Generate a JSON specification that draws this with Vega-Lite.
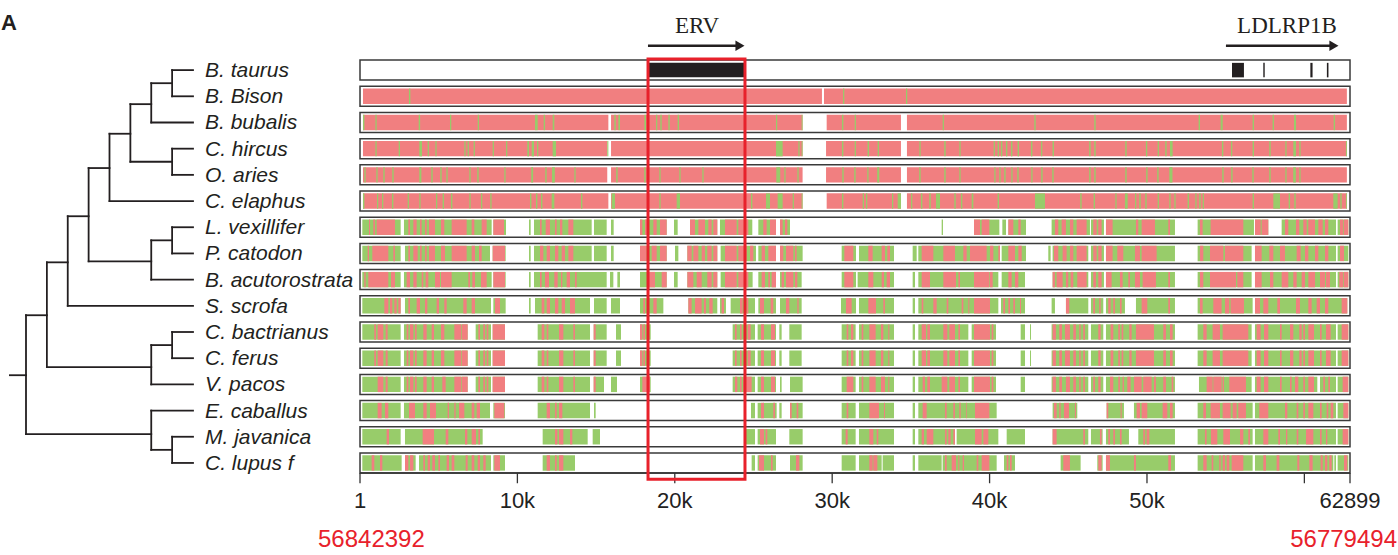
{
"$schema":"https://vega.github.io/schema/vega-lite/v6.json",
"width":1398,"height":555,"padding":0,"autosize":{"type":"none"},
"config":{"view":{"stroke":null}},
"datasets":{
"one":[{"id":1}],
"tracks":[{"row":0,"species":"B. taurus"},{"row":1,"species":"B. Bison"},{"row":2,"species":"B. bubalis"},{"row":3,"species":"C. hircus"},{"row":4,"species":"O. aries"},{"row":5,"species":"C. elaphus"},{"row":6,"species":"L. vexillifer"},{"row":7,"species":"P. catodon"},{"row":8,"species":"B. acutorostrata"},{"row":9,"species":"S. scrofa"},{"row":10,"species":"C. bactrianus"},{"row":11,"species":"C. ferus"},{"row":12,"species":"V. pacos"},{"row":13,"species":"E. caballus"},{"row":14,"species":"M. javanica"},{"row":15,"species":"\u00a0C. lupus f"}],
"tree":[{"x":7,"x2":7,"y":0,"y2":1},{"x":6,"x2":6,"y":0.5,"y2":2},{"x":7,"x2":7,"y":3,"y2":4},{"x":5,"x2":5,"y":1.3,"y2":3.5},{"x":4,"x2":4,"y":2.43,"y2":5},{"x":7,"x2":7,"y":6,"y2":7},{"x":6,"x2":6,"y":6.5,"y2":8},{"x":3,"x2":3,"y":3.74,"y2":7.3},{"x":2,"x2":2,"y":5.58,"y2":9},{"x":7,"x2":7,"y":10,"y2":11},{"x":6,"x2":6,"y":10.5,"y2":12},{"x":1,"x2":1,"y":7.34,"y2":11.34},{"x":7,"x2":7,"y":14,"y2":15},{"x":6,"x2":6,"y":13,"y2":14.5},{"x":0,"x2":0,"y":9.36,"y2":13.9},
{"x":7,"x2":8,"y":0,"y2":0},{"x":7,"x2":8,"y":1,"y2":1},{"x":6,"x2":8,"y":2,"y2":2},{"x":7,"x2":8,"y":3,"y2":3},{"x":7,"x2":8,"y":4,"y2":4},{"x":4,"x2":8,"y":5,"y2":5},{"x":7,"x2":8,"y":6,"y2":6},{"x":7,"x2":8,"y":7,"y2":7},{"x":6,"x2":8,"y":8,"y2":8},{"x":2,"x2":8,"y":9,"y2":9},{"x":7,"x2":8,"y":10,"y2":10},{"x":7,"x2":8,"y":11,"y2":11},{"x":6,"x2":8,"y":12,"y2":12},{"x":6,"x2":8,"y":13,"y2":13},{"x":7,"x2":8,"y":14,"y2":14},{"x":7,"x2":8,"y":15,"y2":15},
{"x":6,"x2":7,"y":0.5,"y2":0.5},{"x":5,"x2":6,"y":1.3,"y2":1.3},{"x":5,"x2":7,"y":3.5,"y2":3.5},{"x":4,"x2":5,"y":2.43,"y2":2.43},{"x":3,"x2":4,"y":3.74,"y2":3.74},{"x":6,"x2":7,"y":6.5,"y2":6.5},{"x":3,"x2":6,"y":7.3,"y2":7.3},{"x":2,"x2":3,"y":5.58,"y2":5.58},{"x":1,"x2":2,"y":7.34,"y2":7.34},{"x":6,"x2":7,"y":10.5,"y2":10.5},{"x":1,"x2":6,"y":11.34,"y2":11.34},{"x":0,"x2":1,"y":9.36,"y2":9.36},{"x":6,"x2":7,"y":14.5,"y2":14.5},{"x":0,"x2":6,"y":13.9,"y2":13.9},{"x":-0.77,"x2":0,"y":11.65,"y2":11.65}],
"ticks":[{"pos":1,"label":"1"},{"pos":10000,"label":"10k"},{"pos":20000,"label":"20k"},{"pos":30000,"label":"30k"},{"pos":40000,"label":"40k"},{"pos":50000,"label":"50k"},{"pos":60000,"label":""},{"pos":62899,"label":"62899"}],
"ref":[{"row":0,"s":18360,"e":24400,"type":"ERV"},{"row":0,"s":55400,"e":56160,"type":"exon"},{"row":0,"s":57390,"e":57480,"type":"exon"},{"row":0,"s":60380,"e":60520,"type":"exon"},{"row":0,"s":61430,"e":61530,"type":"exon"}],
"erv":[{"name":"ERV","s":18300,"e":24460}],
"coords":[{"pos":1,"coord":"56842392"},{"pos":62899,"coord":"56779494"}],
"arrows":[{"label":"ERV","tail":18297,"head":24141,"mid":21410},{"label":"LDLRP1B","tail":55017,"head":61878,"mid":58892}],
"segments":[
{"row":1,"s":190,"e":29350,"k":"hi"},{"row":1,"s":29480,"e":62700,"k":"hi"},{"row":1,"s":3110,"e":3200,"k":"lo"},{"row":1,"s":30690,"e":30770,"k":"lo"},{"row":1,"s":34690,"e":34770,"k":"lo"},
{"row":2,"s":190,"e":15780,"k":"hi"},{"row":2,"s":15950,"e":28120,"k":"hi"},{"row":2,"s":29650,"e":34370,"k":"hi"},{"row":2,"s":34750,"e":62700,"k":"hi"},
{"row":2,"s":190,"e":280,"k":"lo"},{"row":2,"s":980,"e":1060,"k":"lo"},{"row":2,"s":3730,"e":3820,"k":"lo"},{"row":2,"s":5720,"e":5800,"k":"lo"},{"row":2,"s":7480,"e":7560,"k":"lo"},{"row":2,"s":11119,"e":11289,"k":"lo"},{"row":2,"s":11670,"e":11760,"k":"lo"},{"row":2,"s":12242,"e":12348,"k":"lo"},{"row":2,"s":16160,"e":16250,"k":"lo"},{"row":2,"s":16414,"e":16520,"k":"lo"},{"row":2,"s":18066,"e":18172,"k":"lo"},{"row":2,"s":18810,"e":18890,"k":"lo"},{"row":2,"s":19080,"e":19170,"k":"lo"},{"row":2,"s":19590,"e":19680,"k":"lo"},{"row":2,"s":20180,"e":20270,"k":"lo"},{"row":2,"s":26430,"e":26510,"k":"lo"},{"row":2,"s":28060,"e":28120,"k":"lo"},{"row":2,"s":30620,"e":30710,"k":"lo"},{"row":2,"s":31430,"e":31510,"k":"lo"},{"row":2,"s":37020,"e":37100,"k":"lo"},{"row":2,"s":42840,"e":42930,"k":"lo"},{"row":2,"s":46650,"e":46740,"k":"lo"},{"row":2,"s":53280,"e":53370,"k":"lo"},{"row":2,"s":54680,"e":54810,"k":"lo"},{"row":2,"s":56710,"e":56800,"k":"lo"},{"row":2,"s":57980,"e":58070,"k":"lo"},{"row":2,"s":59340,"e":59470,"k":"lo"},{"row":2,"s":61860,"e":61950,"k":"lo"},
{"row":3,"s":190,"e":15710,"k":"hi"},{"row":3,"s":15950,"e":28120,"k":"hi"},{"row":3,"s":29610,"e":34370,"k":"hi"},{"row":3,"s":34750,"e":62700,"k":"hi"},
{"row":3,"s":15710,"e":15780,"k":"lo"},{"row":3,"s":980,"e":1060,"k":"lo"},{"row":3,"s":2460,"e":2540,"k":"lo"},{"row":3,"s":3770,"e":3939,"k":"lo"},{"row":3,"s":4300,"e":4380,"k":"lo"},{"row":3,"s":4790,"e":4870,"k":"lo"},{"row":3,"s":6630,"e":6710,"k":"lo"},{"row":3,"s":6840,"e":6920,"k":"lo"},{"row":3,"s":7220,"e":7300,"k":"lo"},{"row":3,"s":8430,"e":8510,"k":"lo"},{"row":3,"s":9280,"e":9360,"k":"lo"},{"row":3,"s":10632,"e":10738,"k":"lo"},{"row":3,"s":10907,"e":11056,"k":"lo"},{"row":3,"s":11250,"e":11330,"k":"lo"},{"row":3,"s":12242,"e":12453,"k":"lo"},{"row":3,"s":26429,"e":26853,"k":"lo"},{"row":3,"s":27850,"e":27930,"k":"lo"},{"row":3,"s":28060,"e":28120,"k":"lo"},{"row":3,"s":30620,"e":30710,"k":"lo"},{"row":3,"s":31430,"e":31510,"k":"lo"},{"row":3,"s":32250,"e":32340,"k":"lo"},{"row":3,"s":32889,"e":32974,"k":"lo"},{"row":3,"s":35540,"e":35620,"k":"lo"},{"row":3,"s":37120,"e":37210,"k":"lo"},{"row":3,"s":38080,"e":38160,"k":"lo"},{"row":3,"s":40260,"e":40340,"k":"lo"},{"row":3,"s":40510,"e":40600,"k":"lo"},{"row":3,"s":40720,"e":40810,"k":"lo"},{"row":3,"s":41040,"e":41130,"k":"lo"},{"row":3,"s":41360,"e":41450,"k":"lo"},{"row":3,"s":41780,"e":41870,"k":"lo"},{"row":3,"s":42630,"e":42720,"k":"lo"},{"row":3,"s":43270,"e":43350,"k":"lo"},{"row":3,"s":44000,"e":44090,"k":"lo"},{"row":3,"s":46330,"e":46420,"k":"lo"},{"row":3,"s":46650,"e":46740,"k":"lo"},{"row":3,"s":48620,"e":48710,"k":"lo"},{"row":3,"s":49930,"e":50020,"k":"lo"},{"row":3,"s":50680,"e":50760,"k":"lo"},{"row":3,"s":51160,"e":51250,"k":"lo"},{"row":3,"s":51460,"e":51630,"k":"lo"},{"row":3,"s":54760,"e":54850,"k":"lo"},{"row":3,"s":55340,"e":55420,"k":"lo"},{"row":3,"s":56710,"e":56800,"k":"lo"},{"row":3,"s":57770,"e":57860,"k":"lo"},{"row":3,"s":58790,"e":58870,"k":"lo"},{"row":3,"s":59297,"e":59466,"k":"lo"},{"row":3,"s":59680,"e":59760,"k":"lo"},{"row":3,"s":62640,"e":62700,"k":"lo"},
{"row":4,"s":190,"e":15710,"k":"hi"},{"row":4,"s":15950,"e":28120,"k":"hi"},{"row":4,"s":29610,"e":34370,"k":"hi"},{"row":4,"s":34750,"e":62700,"k":"hi"},
{"row":4,"s":280,"e":360,"k":"lo"},{"row":4,"s":1040,"e":1120,"k":"lo"},{"row":4,"s":1480,"e":1570,"k":"lo"},{"row":4,"s":2050,"e":2140,"k":"lo"},{"row":4,"s":3770,"e":3900,"k":"lo"},{"row":4,"s":4530,"e":4620,"k":"lo"},{"row":4,"s":5100,"e":5190,"k":"lo"},{"row":4,"s":5490,"e":5570,"k":"lo"},{"row":4,"s":6950,"e":7030,"k":"lo"},{"row":4,"s":7450,"e":7540,"k":"lo"},{"row":4,"s":9170,"e":9250,"k":"lo"},{"row":4,"s":10880,"e":11000,"k":"lo"},{"row":4,"s":11770,"e":11860,"k":"lo"},{"row":4,"s":12200,"e":12380,"k":"lo"},{"row":4,"s":13620,"e":13700,"k":"lo"},{"row":4,"s":16280,"e":16370,"k":"lo"},{"row":4,"s":18060,"e":18150,"k":"lo"},{"row":4,"s":19020,"e":19100,"k":"lo"},{"row":4,"s":20290,"e":20370,"k":"lo"},{"row":4,"s":21750,"e":21830,"k":"lo"},{"row":4,"s":26450,"e":26700,"k":"lo"},{"row":4,"s":26960,"e":27040,"k":"lo"},{"row":4,"s":27790,"e":27870,"k":"lo"},{"row":4,"s":30640,"e":30730,"k":"lo"},{"row":4,"s":31400,"e":31490,"k":"lo"},{"row":4,"s":32230,"e":32310,"k":"lo"},{"row":4,"s":32860,"e":32990,"k":"lo"},{"row":4,"s":35530,"e":35620,"k":"lo"},{"row":4,"s":37120,"e":37210,"k":"lo"},{"row":4,"s":38080,"e":38160,"k":"lo"},{"row":4,"s":40300,"e":40380,"k":"lo"},{"row":4,"s":40620,"e":40700,"k":"lo"},{"row":4,"s":40930,"e":41020,"k":"lo"},{"row":4,"s":41380,"e":41460,"k":"lo"},{"row":4,"s":41760,"e":41850,"k":"lo"},{"row":4,"s":42650,"e":42730,"k":"lo"},{"row":4,"s":43280,"e":43370,"k":"lo"},{"row":4,"s":43980,"e":44070,"k":"lo"},{"row":4,"s":46330,"e":46420,"k":"lo"},{"row":4,"s":46650,"e":46740,"k":"lo"},{"row":4,"s":48620,"e":48710,"k":"lo"},{"row":4,"s":49950,"e":50040,"k":"lo"},{"row":4,"s":50650,"e":50740,"k":"lo"},{"row":4,"s":51420,"e":51620,"k":"lo"},{"row":4,"s":54780,"e":54870,"k":"lo"},{"row":4,"s":55350,"e":55440,"k":"lo"},{"row":4,"s":56690,"e":56780,"k":"lo"},{"row":4,"s":57770,"e":57860,"k":"lo"},{"row":4,"s":58790,"e":58870,"k":"lo"},{"row":4,"s":59290,"e":59460,"k":"lo"},{"row":4,"s":59680,"e":59760,"k":"lo"},
{"row":5,"s":190,"e":15780,"k":"hi"},{"row":5,"s":15950,"e":28120,"k":"hi"},{"row":5,"s":29650,"e":34370,"k":"hi"},{"row":5,"s":34750,"e":62700,"k":"hi"},
{"row":5,"s":190,"e":280,"k":"lo"},{"row":5,"s":1080,"e":1160,"k":"lo"},{"row":5,"s":1400,"e":1480,"k":"lo"},{"row":5,"s":2030,"e":2120,"k":"lo"},{"row":5,"s":3030,"e":3110,"k":"lo"},{"row":5,"s":3770,"e":3850,"k":"lo"},{"row":5,"s":4830,"e":4910,"k":"lo"},{"row":5,"s":5250,"e":5340,"k":"lo"},{"row":5,"s":5780,"e":5870,"k":"lo"},{"row":5,"s":6950,"e":7030,"k":"lo"},{"row":5,"s":7690,"e":7770,"k":"lo"},{"row":5,"s":8280,"e":8360,"k":"lo"},{"row":5,"s":10800,"e":10890,"k":"lo"},{"row":5,"s":11180,"e":11270,"k":"lo"},{"row":5,"s":11500,"e":11590,"k":"lo"},{"row":5,"s":12178,"e":12348,"k":"lo"},{"row":5,"s":14040,"e":14130,"k":"lo"},{"row":5,"s":15991,"e":16202,"k":"lo"},{"row":5,"s":19020,"e":19100,"k":"lo"},{"row":5,"s":20121,"e":20333,"k":"lo"},{"row":5,"s":24840,"e":24930,"k":"lo"},{"row":5,"s":25794,"e":26048,"k":"lo"},{"row":5,"s":26535,"e":26853,"k":"lo"},{"row":5,"s":27490,"e":27570,"k":"lo"},{"row":5,"s":28060,"e":28120,"k":"lo"},{"row":5,"s":30620,"e":30710,"k":"lo"},{"row":5,"s":31940,"e":32020,"k":"lo"},{"row":5,"s":32150,"e":32230,"k":"lo"},{"row":5,"s":33800,"e":33880,"k":"lo"},{"row":5,"s":34160,"e":34370,"k":"lo"},{"row":5,"s":35010,"e":35090,"k":"lo"},{"row":5,"s":35640,"e":35730,"k":"lo"},{"row":5,"s":36170,"e":36260,"k":"lo"},{"row":5,"s":36596,"e":36850,"k":"lo"},{"row":5,"s":37760,"e":37850,"k":"lo"},{"row":5,"s":38180,"e":38270,"k":"lo"},{"row":5,"s":38862,"e":38968,"k":"lo"},{"row":5,"s":40510,"e":40600,"k":"lo"},{"row":5,"s":42886,"e":43521,"k":"lo"},{"row":5,"s":45760,"e":45850,"k":"lo"},{"row":5,"s":46610,"e":46700,"k":"lo"},{"row":5,"s":47990,"e":48070,"k":"lo"},{"row":5,"s":48601,"e":48770,"k":"lo"},{"row":5,"s":49240,"e":49320,"k":"lo"},{"row":5,"s":49510,"e":49600,"k":"lo"},{"row":5,"s":49890,"e":49980,"k":"lo"},{"row":5,"s":50680,"e":50760,"k":"lo"},{"row":5,"s":51420,"e":51500,"k":"lo"},{"row":5,"s":51740,"e":51820,"k":"lo"},{"row":5,"s":52580,"e":52670,"k":"lo"},{"row":5,"s":53070,"e":53150,"k":"lo"},{"row":5,"s":53320,"e":53410,"k":"lo"},{"row":5,"s":53540,"e":53620,"k":"lo"},{"row":5,"s":56710,"e":56800,"k":"lo"},{"row":5,"s":58026,"e":58450,"k":"lo"},{"row":5,"s":59000,"e":59090,"k":"lo"},{"row":5,"s":59360,"e":59450,"k":"lo"},{"row":5,"s":61838,"e":62113,"k":"lo"},{"row":5,"s":62280,"e":62370,"k":"lo"},{"row":5,"s":62640,"e":62700,"k":"lo"},
{"row":6,"s":148,"e":2584,"k":"lo"},{"row":6,"s":2795,"e":8366,"k":"lo"},{"row":6,"s":8472,"e":9277,"k":"lo"},{"row":6,"s":10738,"e":10844,"k":"lo"},{"row":6,"s":11056,"e":14720,"k":"lo"},{"row":6,"s":14868,"e":15673,"k":"lo"},{"row":6,"s":15948,"e":16118,"k":"lo"},{"row":6,"s":17791,"e":19485,"k":"lo"},{"row":6,"s":19951,"e":20184,"k":"lo"},{"row":6,"s":20968,"e":22701,"k":"lo"},{"row":6,"s":22871,"e":24925,"k":"lo"},{"row":6,"s":25307,"e":26429,"k":"lo"},{"row":6,"s":26683,"e":27319,"k":"lo"},{"row":6,"s":36956,"e":37040,"k":"lo"},{"row":6,"s":39010,"e":40620,"k":"lo"},{"row":6,"s":40810,"e":41043,"k":"lo"},{"row":6,"s":41192,"e":42314,"k":"lo"},{"row":6,"s":43941,"e":46377,"k":"lo"},{"row":6,"s":46441,"e":47267,"k":"lo"},{"row":6,"s":47394,"e":51778,"k":"lo"},{"row":6,"s":53218,"e":56798,"k":"lo"},{"row":6,"s":56861,"e":57708,"k":"lo"},{"row":6,"s":58556,"e":62008,"k":"lo"},{"row":6,"s":62114,"e":62792,"k":"lo"},
{"row":6,"s":572,"e":635,"k":"hi"},{"row":6,"s":847,"e":953,"k":"hi"},{"row":6,"s":1059,"e":2224,"k":"hi"},{"row":6,"s":3071,"e":3177,"k":"hi"},{"row":6,"s":3389,"e":3600,"k":"hi"},{"row":6,"s":3812,"e":3918,"k":"hi"},{"row":6,"s":4130,"e":4236,"k":"hi"},{"row":6,"s":4384,"e":4765,"k":"hi"},{"row":6,"s":5146,"e":5358,"k":"hi"},{"row":6,"s":5824,"e":6777,"k":"hi"},{"row":6,"s":7095,"e":7264,"k":"hi"},{"row":6,"s":7730,"e":8048,"k":"hi"},{"row":6,"s":8472,"e":9149,"k":"hi"},{"row":6,"s":11437,"e":11543,"k":"hi"},{"row":6,"s":11797,"e":12072,"k":"hi"},{"row":6,"s":12390,"e":12496,"k":"hi"},{"row":6,"s":12708,"e":12856,"k":"hi"},{"row":6,"s":13237,"e":13555,"k":"hi"},{"row":6,"s":17791,"e":17939,"k":"hi"},{"row":6,"s":18109,"e":18320,"k":"hi"},{"row":6,"s":18638,"e":18850,"k":"hi"},{"row":6,"s":19062,"e":19485,"k":"hi"},{"row":6,"s":20968,"e":21286,"k":"hi"},{"row":6,"s":21497,"e":21918,"k":"hi"},{"row":6,"s":22130,"e":22341,"k":"hi"},{"row":6,"s":22447,"e":22701,"k":"hi"},{"row":6,"s":23189,"e":23930,"k":"hi"},{"row":6,"s":24036,"e":24671,"k":"hi"},{"row":6,"s":25624,"e":25836,"k":"hi"},{"row":6,"s":26048,"e":26429,"k":"hi"},{"row":6,"s":26683,"e":26853,"k":"hi"},{"row":6,"s":27001,"e":27149,"k":"hi"},{"row":6,"s":39010,"e":39391,"k":"hi"},{"row":6,"s":39497,"e":39984,"k":"hi"},{"row":6,"s":41192,"e":41509,"k":"hi"},{"row":6,"s":41827,"e":41975,"k":"hi"},{"row":6,"s":44153,"e":44365,"k":"hi"},{"row":6,"s":44577,"e":44852,"k":"hi"},{"row":6,"s":45106,"e":45318,"k":"hi"},{"row":6,"s":45530,"e":46165,"k":"hi"},{"row":6,"s":46589,"e":46801,"k":"hi"},{"row":6,"s":46907,"e":47118,"k":"hi"},{"row":6,"s":47394,"e":47817,"k":"hi"},{"row":6,"s":49300,"e":49448,"k":"hi"},{"row":6,"s":49660,"e":50507,"k":"hi"},{"row":6,"s":51354,"e":51460,"k":"hi"},{"row":6,"s":53366,"e":53535,"k":"hi"},{"row":6,"s":54044,"e":56120,"k":"hi"},{"row":6,"s":56861,"e":57221,"k":"hi"},{"row":6,"s":57285,"e":57708,"k":"hi"},{"row":6,"s":58767,"e":58979,"k":"hi"},{"row":6,"s":59466,"e":59678,"k":"hi"},{"row":6,"s":59932,"e":60144,"k":"hi"},{"row":6,"s":60250,"e":60674,"k":"hi"},{"row":6,"s":60885,"e":61161,"k":"hi"},{"row":6,"s":61309,"e":61521,"k":"hi"},{"row":6,"s":62262,"e":62474,"k":"hi"},{"row":6,"s":62516,"e":62792,"k":"hi"},
{"row":7,"s":148,"e":2584,"k":"lo"},{"row":7,"s":2859,"e":8260,"k":"lo"},{"row":7,"s":8429,"e":9255,"k":"lo"},{"row":7,"s":10738,"e":10844,"k":"lo"},{"row":7,"s":11056,"e":14720,"k":"lo"},{"row":7,"s":14868,"e":15673,"k":"lo"},{"row":7,"s":15948,"e":16118,"k":"lo"},{"row":7,"s":17791,"e":19485,"k":"lo"},{"row":7,"s":20015,"e":20227,"k":"lo"},{"row":7,"s":20798,"e":22701,"k":"lo"},{"row":7,"s":22913,"e":25158,"k":"lo"},{"row":7,"s":25307,"e":26429,"k":"lo"},{"row":7,"s":26683,"e":28123,"k":"lo"},{"row":7,"s":30602,"e":31512,"k":"lo"},{"row":7,"s":31703,"e":33927,"k":"lo"},{"row":7,"s":35113,"e":35367,"k":"lo"},{"row":7,"s":35473,"e":40662,"k":"lo"},{"row":7,"s":40768,"e":42314,"k":"lo"},{"row":7,"s":43730,"e":43878,"k":"lo"},{"row":7,"s":44005,"e":46271,"k":"lo"},{"row":7,"s":46441,"e":47267,"k":"lo"},{"row":7,"s":47394,"e":51778,"k":"lo"},{"row":7,"s":53218,"e":56649,"k":"lo"},{"row":7,"s":56861,"e":62008,"k":"lo"},{"row":7,"s":62114,"e":62792,"k":"lo"},
{"row":7,"s":487,"e":572,"k":"hi"},{"row":7,"s":783,"e":1800,"k":"hi"},{"row":7,"s":2118,"e":2224,"k":"hi"},{"row":7,"s":3071,"e":3177,"k":"hi"},{"row":7,"s":3389,"e":3664,"k":"hi"},{"row":7,"s":3812,"e":3918,"k":"hi"},{"row":7,"s":4130,"e":4236,"k":"hi"},{"row":7,"s":4384,"e":4765,"k":"hi"},{"row":7,"s":5146,"e":5400,"k":"hi"},{"row":7,"s":5824,"e":6777,"k":"hi"},{"row":7,"s":7095,"e":7307,"k":"hi"},{"row":7,"s":7560,"e":7730,"k":"hi"},{"row":7,"s":8429,"e":9213,"k":"hi"},{"row":7,"s":11437,"e":11649,"k":"hi"},{"row":7,"s":11861,"e":12072,"k":"hi"},{"row":7,"s":12390,"e":12602,"k":"hi"},{"row":7,"s":12814,"e":13026,"k":"hi"},{"row":7,"s":13237,"e":13555,"k":"hi"},{"row":7,"s":17791,"e":18215,"k":"hi"},{"row":7,"s":18532,"e":18850,"k":"hi"},{"row":7,"s":19062,"e":19485,"k":"hi"},{"row":7,"s":20798,"e":21074,"k":"hi"},{"row":7,"s":21180,"e":21497,"k":"hi"},{"row":7,"s":21709,"e":21921,"k":"hi"},{"row":7,"s":22066,"e":22341,"k":"hi"},{"row":7,"s":22447,"e":22701,"k":"hi"},{"row":7,"s":23189,"e":23930,"k":"hi"},{"row":7,"s":24036,"e":24565,"k":"hi"},{"row":7,"s":24777,"e":24989,"k":"hi"},{"row":7,"s":25518,"e":25730,"k":"hi"},{"row":7,"s":25942,"e":26429,"k":"hi"},{"row":7,"s":26683,"e":26895,"k":"hi"},{"row":7,"s":27064,"e":27530,"k":"hi"},{"row":7,"s":27636,"e":27742,"k":"hi"},{"row":7,"s":30771,"e":31343,"k":"hi"},{"row":7,"s":32296,"e":32571,"k":"hi"},{"row":7,"s":33143,"e":33355,"k":"hi"},{"row":7,"s":33503,"e":33673,"k":"hi"},{"row":7,"s":35685,"e":36426,"k":"hi"},{"row":7,"s":37061,"e":37803,"k":"hi"},{"row":7,"s":38332,"e":38544,"k":"hi"},{"row":7,"s":38756,"e":39815,"k":"hi"},{"row":7,"s":40027,"e":40238,"k":"hi"},{"row":7,"s":40556,"e":40662,"k":"hi"},{"row":7,"s":41192,"e":41615,"k":"hi"},{"row":7,"s":41827,"e":42039,"k":"hi"},{"row":7,"s":44089,"e":44365,"k":"hi"},{"row":7,"s":44640,"e":44894,"k":"hi"},{"row":7,"s":45106,"e":45318,"k":"hi"},{"row":7,"s":45530,"e":46165,"k":"hi"},{"row":7,"s":46589,"e":46801,"k":"hi"},{"row":7,"s":46907,"e":47118,"k":"hi"},{"row":7,"s":47394,"e":47817,"k":"hi"},{"row":7,"s":48114,"e":48495,"k":"hi"},{"row":7,"s":49236,"e":49554,"k":"hi"},{"row":7,"s":49660,"e":50613,"k":"hi"},{"row":7,"s":53366,"e":53578,"k":"hi"},{"row":7,"s":54002,"e":54849,"k":"hi"},{"row":7,"s":54955,"e":56120,"k":"hi"},{"row":7,"s":56861,"e":57285,"k":"hi"},{"row":7,"s":57772,"e":58026,"k":"hi"},{"row":7,"s":58450,"e":58767,"k":"hi"},{"row":7,"s":59509,"e":59763,"k":"hi"},{"row":7,"s":60038,"e":60250,"k":"hi"},{"row":7,"s":60674,"e":60885,"k":"hi"},{"row":7,"s":61309,"e":61521,"k":"hi"},{"row":7,"s":62262,"e":62516,"k":"hi"},
{"row":8,"s":148,"e":2584,"k":"lo"},{"row":8,"s":2795,"e":8366,"k":"lo"},{"row":8,"s":8472,"e":9255,"k":"lo"},{"row":8,"s":10738,"e":10844,"k":"lo"},{"row":8,"s":11056,"e":15673,"k":"lo"},{"row":8,"s":15885,"e":16097,"k":"lo"},{"row":8,"s":16351,"e":16520,"k":"lo"},{"row":8,"s":17791,"e":19485,"k":"lo"},{"row":8,"s":19951,"e":20184,"k":"lo"},{"row":8,"s":20798,"e":22701,"k":"lo"},{"row":8,"s":22913,"e":24946,"k":"lo"},{"row":8,"s":25307,"e":26429,"k":"lo"},{"row":8,"s":26683,"e":28060,"k":"lo"},{"row":8,"s":30602,"e":31512,"k":"lo"},{"row":8,"s":31618,"e":33927,"k":"lo"},{"row":8,"s":35113,"e":35261,"k":"lo"},{"row":8,"s":35473,"e":40556,"k":"lo"},{"row":8,"s":40768,"e":42251,"k":"lo"},{"row":8,"s":44005,"e":46271,"k":"lo"},{"row":8,"s":46441,"e":47267,"k":"lo"},{"row":8,"s":47394,"e":51778,"k":"lo"},{"row":8,"s":53218,"e":56649,"k":"lo"},{"row":8,"s":56861,"e":62008,"k":"lo"},{"row":8,"s":62114,"e":62792,"k":"lo"},
{"row":8,"s":275,"e":360,"k":"hi"},{"row":8,"s":529,"e":1800,"k":"hi"},{"row":8,"s":1969,"e":2224,"k":"hi"},{"row":8,"s":2965,"e":3177,"k":"hi"},{"row":8,"s":3389,"e":3600,"k":"hi"},{"row":8,"s":3918,"e":4024,"k":"hi"},{"row":8,"s":4172,"e":4342,"k":"hi"},{"row":8,"s":4765,"e":5083,"k":"hi"},{"row":8,"s":5146,"e":5824,"k":"hi"},{"row":8,"s":6883,"e":6989,"k":"hi"},{"row":8,"s":7137,"e":7307,"k":"hi"},{"row":8,"s":7688,"e":8048,"k":"hi"},{"row":8,"s":8472,"e":9213,"k":"hi"},{"row":8,"s":11437,"e":11543,"k":"hi"},{"row":8,"s":11755,"e":12009,"k":"hi"},{"row":8,"s":12348,"e":12559,"k":"hi"},{"row":8,"s":12771,"e":12856,"k":"hi"},{"row":8,"s":13131,"e":13343,"k":"hi"},{"row":8,"s":13661,"e":13767,"k":"hi"},{"row":8,"s":18320,"e":18744,"k":"hi"},{"row":8,"s":19168,"e":19485,"k":"hi"},{"row":8,"s":20798,"e":21180,"k":"hi"},{"row":8,"s":21392,"e":21709,"k":"hi"},{"row":8,"s":22066,"e":22341,"k":"hi"},{"row":8,"s":22447,"e":22701,"k":"hi"},{"row":8,"s":23189,"e":23930,"k":"hi"},{"row":8,"s":24036,"e":24671,"k":"hi"},{"row":8,"s":25518,"e":25730,"k":"hi"},{"row":8,"s":25942,"e":26048,"k":"hi"},{"row":8,"s":26154,"e":26429,"k":"hi"},{"row":8,"s":26789,"e":26937,"k":"hi"},{"row":8,"s":27064,"e":27530,"k":"hi"},{"row":8,"s":27636,"e":27785,"k":"hi"},{"row":8,"s":30771,"e":31343,"k":"hi"},{"row":8,"s":32296,"e":32614,"k":"hi"},{"row":8,"s":33143,"e":33291,"k":"hi"},{"row":8,"s":33461,"e":33673,"k":"hi"},{"row":8,"s":35685,"e":36214,"k":"hi"},{"row":8,"s":37061,"e":37866,"k":"hi"},{"row":8,"s":38015,"e":38120,"k":"hi"},{"row":8,"s":39010,"e":39984,"k":"hi"},{"row":8,"s":40027,"e":40196,"k":"hi"},{"row":8,"s":41192,"e":41403,"k":"hi"},{"row":8,"s":41615,"e":41827,"k":"hi"},{"row":8,"s":44005,"e":44153,"k":"hi"},{"row":8,"s":44259,"e":44640,"k":"hi"},{"row":8,"s":44852,"e":45000,"k":"hi"},{"row":8,"s":45149,"e":45318,"k":"hi"},{"row":8,"s":45572,"e":46165,"k":"hi"},{"row":8,"s":46589,"e":46758,"k":"hi"},{"row":8,"s":46907,"e":47118,"k":"hi"},{"row":8,"s":47394,"e":47754,"k":"hi"},{"row":8,"s":48283,"e":48453,"k":"hi"},{"row":8,"s":48813,"e":48919,"k":"hi"},{"row":8,"s":49236,"e":49554,"k":"hi"},{"row":8,"s":49723,"e":50570,"k":"hi"},{"row":8,"s":51354,"e":51460,"k":"hi"},{"row":8,"s":53366,"e":53578,"k":"hi"},{"row":8,"s":54002,"e":55654,"k":"hi"},{"row":8,"s":55739,"e":56120,"k":"hi"},{"row":8,"s":56861,"e":57285,"k":"hi"},{"row":8,"s":57814,"e":58026,"k":"hi"},{"row":8,"s":58556,"e":58979,"k":"hi"},{"row":8,"s":59297,"e":59509,"k":"hi"},{"row":8,"s":59826,"e":60038,"k":"hi"},{"row":8,"s":60250,"e":60674,"k":"hi"},{"row":8,"s":60991,"e":61309,"k":"hi"},{"row":8,"s":61372,"e":61626,"k":"hi"},{"row":8,"s":62220,"e":62474,"k":"hi"},{"row":8,"s":62516,"e":62792,"k":"hi"},
{"row":9,"s":148,"e":2584,"k":"lo"},{"row":9,"s":2859,"e":8323,"k":"lo"},{"row":9,"s":8472,"e":9255,"k":"lo"},{"row":9,"s":10738,"e":10844,"k":"lo"},{"row":9,"s":11119,"e":14614,"k":"lo"},{"row":9,"s":14868,"e":15673,"k":"lo"},{"row":9,"s":15948,"e":16520,"k":"lo"},{"row":9,"s":17791,"e":19274,"k":"lo"},{"row":9,"s":20862,"e":22701,"k":"lo"},{"row":9,"s":22871,"e":23252,"k":"lo"},{"row":9,"s":23549,"e":25095,"k":"lo"},{"row":9,"s":25307,"e":26429,"k":"lo"},{"row":9,"s":26683,"e":28060,"k":"lo"},{"row":9,"s":30559,"e":31512,"k":"lo"},{"row":9,"s":31703,"e":33927,"k":"lo"},{"row":9,"s":35113,"e":35261,"k":"lo"},{"row":9,"s":35473,"e":40556,"k":"lo"},{"row":9,"s":40726,"e":42251,"k":"lo"},{"row":9,"s":43941,"e":44153,"k":"lo"},{"row":9,"s":44852,"e":46271,"k":"lo"},{"row":9,"s":46441,"e":47224,"k":"lo"},{"row":9,"s":47394,"e":48601,"k":"lo"},{"row":9,"s":49300,"e":51778,"k":"lo"},{"row":9,"s":53218,"e":56713,"k":"lo"},{"row":9,"s":56861,"e":62728,"k":"lo"},
{"row":9,"s":1546,"e":1800,"k":"hi"},{"row":9,"s":1906,"e":2054,"k":"hi"},{"row":9,"s":2181,"e":2330,"k":"hi"},{"row":9,"s":2435,"e":2584,"k":"hi"},{"row":9,"s":3071,"e":3177,"k":"hi"},{"row":9,"s":3600,"e":3812,"k":"hi"},{"row":9,"s":4130,"e":4278,"k":"hi"},{"row":9,"s":4871,"e":5019,"k":"hi"},{"row":9,"s":5358,"e":5507,"k":"hi"},{"row":9,"s":6566,"e":6777,"k":"hi"},{"row":9,"s":7095,"e":7307,"k":"hi"},{"row":9,"s":8578,"e":8895,"k":"hi"},{"row":9,"s":11543,"e":11712,"k":"hi"},{"row":9,"s":11861,"e":12072,"k":"hi"},{"row":9,"s":12390,"e":12602,"k":"hi"},{"row":9,"s":12814,"e":13026,"k":"hi"},{"row":9,"s":13343,"e":13661,"k":"hi"},{"row":9,"s":18003,"e":18109,"k":"hi"},{"row":9,"s":18638,"e":18850,"k":"hi"},{"row":9,"s":20862,"e":21074,"k":"hi"},{"row":9,"s":21286,"e":21706,"k":"hi"},{"row":9,"s":21854,"e":21981,"k":"hi"},{"row":9,"s":22193,"e":22405,"k":"hi"},{"row":9,"s":22977,"e":23125,"k":"hi"},{"row":9,"s":24142,"e":24311,"k":"hi"},{"row":9,"s":24565,"e":24671,"k":"hi"},{"row":9,"s":25412,"e":25667,"k":"hi"},{"row":9,"s":26090,"e":26260,"k":"hi"},{"row":9,"s":27064,"e":27276,"k":"hi"},{"row":9,"s":27785,"e":27869,"k":"hi"},{"row":9,"s":30877,"e":31237,"k":"hi"},{"row":9,"s":32296,"e":32783,"k":"hi"},{"row":9,"s":33249,"e":33355,"k":"hi"},{"row":9,"s":35685,"e":35791,"k":"hi"},{"row":9,"s":36426,"e":36638,"k":"hi"},{"row":9,"s":37273,"e":37379,"k":"hi"},{"row":9,"s":38226,"e":38332,"k":"hi"},{"row":9,"s":38650,"e":38713,"k":"hi"},{"row":9,"s":39010,"e":40027,"k":"hi"},{"row":9,"s":40874,"e":40980,"k":"hi"},{"row":9,"s":41192,"e":41297,"k":"hi"},{"row":9,"s":41509,"e":41615,"k":"hi"},{"row":9,"s":41933,"e":41996,"k":"hi"},{"row":9,"s":44852,"e":45064,"k":"hi"},{"row":9,"s":46589,"e":46695,"k":"hi"},{"row":9,"s":46970,"e":47055,"k":"hi"},{"row":9,"s":47542,"e":47690,"k":"hi"},{"row":9,"s":47860,"e":47966,"k":"hi"},{"row":9,"s":48283,"e":48389,"k":"hi"},{"row":9,"s":49660,"e":50020,"k":"hi"},{"row":9,"s":51354,"e":51460,"k":"hi"},{"row":9,"s":53366,"e":53535,"k":"hi"},{"row":9,"s":54214,"e":54743,"k":"hi"},{"row":9,"s":54955,"e":55230,"k":"hi"},{"row":9,"s":55315,"e":56162,"k":"hi"},{"row":9,"s":56861,"e":57179,"k":"hi"},{"row":9,"s":57391,"e":57708,"k":"hi"},{"row":9,"s":58280,"e":58450,"k":"hi"},{"row":9,"s":59466,"e":59720,"k":"hi"},{"row":9,"s":60250,"e":60462,"k":"hi"},{"row":9,"s":60779,"e":60991,"k":"hi"},{"row":9,"s":61309,"e":61521,"k":"hi"},{"row":9,"s":62368,"e":62728,"k":"hi"},
{"row":10,"s":148,"e":2584,"k":"lo"},{"row":10,"s":2795,"e":6841,"k":"lo"},{"row":10,"s":7349,"e":8323,"k":"lo"},{"row":10,"s":8429,"e":9213,"k":"lo"},{"row":10,"s":11289,"e":14614,"k":"lo"},{"row":10,"s":14847,"e":15673,"k":"lo"},{"row":10,"s":16266,"e":16584,"k":"lo"},{"row":10,"s":17791,"e":18469,"k":"lo"},{"row":10,"s":23676,"e":25095,"k":"lo"},{"row":10,"s":25264,"e":26429,"k":"lo"},{"row":10,"s":26641,"e":26789,"k":"lo"},{"row":10,"s":27276,"e":28060,"k":"lo"},{"row":10,"s":30602,"e":31491,"k":"lo"},{"row":10,"s":31703,"e":33927,"k":"lo"},{"row":10,"s":35113,"e":35261,"k":"lo"},{"row":10,"s":35473,"e":38650,"k":"lo"},{"row":10,"s":38862,"e":40408,"k":"lo"},{"row":10,"s":41975,"e":42251,"k":"lo"},{"row":10,"s":42568,"e":42632,"k":"lo"},{"row":10,"s":43941,"e":46271,"k":"lo"},{"row":10,"s":46441,"e":47224,"k":"lo"},{"row":10,"s":47394,"e":51778,"k":"lo"},{"row":10,"s":53218,"e":56649,"k":"lo"},{"row":10,"s":56861,"e":62008,"k":"lo"},{"row":10,"s":62114,"e":62792,"k":"lo"},
{"row":10,"s":910,"e":1016,"k":"hi"},{"row":10,"s":1122,"e":1482,"k":"hi"},{"row":10,"s":1631,"e":1758,"k":"hi"},{"row":10,"s":2965,"e":3071,"k":"hi"},{"row":10,"s":3177,"e":3389,"k":"hi"},{"row":10,"s":3494,"e":3600,"k":"hi"},{"row":10,"s":4024,"e":4236,"k":"hi"},{"row":10,"s":4553,"e":4702,"k":"hi"},{"row":10,"s":5146,"e":5358,"k":"hi"},{"row":10,"s":5994,"e":6417,"k":"hi"},{"row":10,"s":6460,"e":6841,"k":"hi"},{"row":10,"s":7519,"e":7625,"k":"hi"},{"row":10,"s":7836,"e":7942,"k":"hi"},{"row":10,"s":8048,"e":8154,"k":"hi"},{"row":10,"s":8429,"e":9213,"k":"hi"},{"row":10,"s":11543,"e":11712,"k":"hi"},{"row":10,"s":11861,"e":11966,"k":"hi"},{"row":10,"s":12644,"e":12920,"k":"hi"},{"row":10,"s":13555,"e":13661,"k":"hi"},{"row":10,"s":14847,"e":14974,"k":"hi"},{"row":10,"s":17791,"e":17939,"k":"hi"},{"row":10,"s":18003,"e":18109,"k":"hi"},{"row":10,"s":23824,"e":23930,"k":"hi"},{"row":10,"s":24142,"e":24248,"k":"hi"},{"row":10,"s":24629,"e":24819,"k":"hi"},{"row":10,"s":25476,"e":25667,"k":"hi"},{"row":10,"s":26111,"e":26366,"k":"hi"},{"row":10,"s":30919,"e":31025,"k":"hi"},{"row":10,"s":31195,"e":31343,"k":"hi"},{"row":10,"s":31872,"e":31978,"k":"hi"},{"row":10,"s":32360,"e":32762,"k":"hi"},{"row":10,"s":33101,"e":33249,"k":"hi"},{"row":10,"s":33567,"e":33630,"k":"hi"},{"row":10,"s":35685,"e":35960,"k":"hi"},{"row":10,"s":36045,"e":36214,"k":"hi"},{"row":10,"s":37061,"e":37316,"k":"hi"},{"row":10,"s":37443,"e":37803,"k":"hi"},{"row":10,"s":38015,"e":38120,"k":"hi"},{"row":10,"s":39010,"e":40027,"k":"hi"},{"row":10,"s":40133,"e":40238,"k":"hi"},{"row":10,"s":44005,"e":44217,"k":"hi"},{"row":10,"s":44428,"e":44598,"k":"hi"},{"row":10,"s":44789,"e":45106,"k":"hi"},{"row":10,"s":45318,"e":45487,"k":"hi"},{"row":10,"s":45699,"e":45784,"k":"hi"},{"row":10,"s":45953,"e":46059,"k":"hi"},{"row":10,"s":46907,"e":47055,"k":"hi"},{"row":10,"s":47690,"e":47860,"k":"hi"},{"row":10,"s":48177,"e":48283,"k":"hi"},{"row":10,"s":48389,"e":48495,"k":"hi"},{"row":10,"s":48876,"e":49025,"k":"hi"},{"row":10,"s":49300,"e":50444,"k":"hi"},{"row":10,"s":51037,"e":51206,"k":"hi"},{"row":10,"s":51460,"e":51630,"k":"hi"},{"row":10,"s":53578,"e":53790,"k":"hi"},{"row":10,"s":54171,"e":54637,"k":"hi"},{"row":10,"s":54807,"e":56437,"k":"hi"},{"row":10,"s":56967,"e":57221,"k":"hi"},{"row":10,"s":57433,"e":57708,"k":"hi"},{"row":10,"s":58450,"e":58556,"k":"hi"},{"row":10,"s":59085,"e":59297,"k":"hi"},{"row":10,"s":59678,"e":59826,"k":"hi"},{"row":10,"s":59932,"e":60038,"k":"hi"},{"row":10,"s":60250,"e":60610,"k":"hi"},{"row":10,"s":60991,"e":61097,"k":"hi"},{"row":10,"s":61372,"e":61669,"k":"hi"},{"row":10,"s":62368,"e":62792,"k":"hi"},
{"row":11,"s":148,"e":2584,"k":"lo"},{"row":11,"s":2795,"e":6841,"k":"lo"},{"row":11,"s":7349,"e":8323,"k":"lo"},{"row":11,"s":8429,"e":9213,"k":"lo"},{"row":11,"s":11289,"e":14614,"k":"lo"},{"row":11,"s":14847,"e":15673,"k":"lo"},{"row":11,"s":16266,"e":16584,"k":"lo"},{"row":11,"s":17791,"e":18469,"k":"lo"},{"row":11,"s":23676,"e":25095,"k":"lo"},{"row":11,"s":25264,"e":26429,"k":"lo"},{"row":11,"s":26641,"e":26789,"k":"lo"},{"row":11,"s":27276,"e":28060,"k":"lo"},{"row":11,"s":30602,"e":31491,"k":"lo"},{"row":11,"s":31703,"e":33927,"k":"lo"},{"row":11,"s":35113,"e":35261,"k":"lo"},{"row":11,"s":35473,"e":38650,"k":"lo"},{"row":11,"s":38862,"e":40408,"k":"lo"},{"row":11,"s":41975,"e":42251,"k":"lo"},{"row":11,"s":42568,"e":42632,"k":"lo"},{"row":11,"s":43941,"e":46271,"k":"lo"},{"row":11,"s":46441,"e":47224,"k":"lo"},{"row":11,"s":47394,"e":51778,"k":"lo"},{"row":11,"s":53218,"e":56649,"k":"lo"},{"row":11,"s":56861,"e":62008,"k":"lo"},{"row":11,"s":62114,"e":62792,"k":"lo"},
{"row":11,"s":910,"e":1016,"k":"hi"},{"row":11,"s":1122,"e":1482,"k":"hi"},{"row":11,"s":1631,"e":1758,"k":"hi"},{"row":11,"s":2965,"e":3071,"k":"hi"},{"row":11,"s":3177,"e":3389,"k":"hi"},{"row":11,"s":3494,"e":3600,"k":"hi"},{"row":11,"s":4024,"e":4236,"k":"hi"},{"row":11,"s":4553,"e":4702,"k":"hi"},{"row":11,"s":5146,"e":5358,"k":"hi"},{"row":11,"s":5994,"e":6417,"k":"hi"},{"row":11,"s":6460,"e":6841,"k":"hi"},{"row":11,"s":7519,"e":7625,"k":"hi"},{"row":11,"s":7836,"e":7942,"k":"hi"},{"row":11,"s":8048,"e":8154,"k":"hi"},{"row":11,"s":8429,"e":9213,"k":"hi"},{"row":11,"s":11543,"e":11712,"k":"hi"},{"row":11,"s":11861,"e":11966,"k":"hi"},{"row":11,"s":12644,"e":12920,"k":"hi"},{"row":11,"s":13555,"e":13661,"k":"hi"},{"row":11,"s":14847,"e":14974,"k":"hi"},{"row":11,"s":17791,"e":17939,"k":"hi"},{"row":11,"s":18003,"e":18109,"k":"hi"},{"row":11,"s":23824,"e":23930,"k":"hi"},{"row":11,"s":24142,"e":24248,"k":"hi"},{"row":11,"s":24629,"e":24819,"k":"hi"},{"row":11,"s":25476,"e":25667,"k":"hi"},{"row":11,"s":26111,"e":26366,"k":"hi"},{"row":11,"s":30919,"e":31025,"k":"hi"},{"row":11,"s":31195,"e":31343,"k":"hi"},{"row":11,"s":31872,"e":31978,"k":"hi"},{"row":11,"s":32360,"e":32762,"k":"hi"},{"row":11,"s":33101,"e":33249,"k":"hi"},{"row":11,"s":33567,"e":33630,"k":"hi"},{"row":11,"s":35685,"e":35960,"k":"hi"},{"row":11,"s":36045,"e":36214,"k":"hi"},{"row":11,"s":37061,"e":37316,"k":"hi"},{"row":11,"s":37443,"e":37803,"k":"hi"},{"row":11,"s":38015,"e":38120,"k":"hi"},{"row":11,"s":39010,"e":40027,"k":"hi"},{"row":11,"s":40133,"e":40238,"k":"hi"},{"row":11,"s":44005,"e":44217,"k":"hi"},{"row":11,"s":44428,"e":44598,"k":"hi"},{"row":11,"s":44789,"e":45106,"k":"hi"},{"row":11,"s":45318,"e":45487,"k":"hi"},{"row":11,"s":45699,"e":45784,"k":"hi"},{"row":11,"s":45953,"e":46059,"k":"hi"},{"row":11,"s":46907,"e":47055,"k":"hi"},{"row":11,"s":47690,"e":47860,"k":"hi"},{"row":11,"s":48177,"e":48283,"k":"hi"},{"row":11,"s":48389,"e":48495,"k":"hi"},{"row":11,"s":48876,"e":49025,"k":"hi"},{"row":11,"s":49300,"e":50444,"k":"hi"},{"row":11,"s":51037,"e":51206,"k":"hi"},{"row":11,"s":51460,"e":51630,"k":"hi"},{"row":11,"s":53578,"e":53790,"k":"hi"},{"row":11,"s":54171,"e":54637,"k":"hi"},{"row":11,"s":54807,"e":56437,"k":"hi"},{"row":11,"s":56967,"e":57221,"k":"hi"},{"row":11,"s":57433,"e":57708,"k":"hi"},{"row":11,"s":58450,"e":58556,"k":"hi"},{"row":11,"s":59085,"e":59297,"k":"hi"},{"row":11,"s":59678,"e":59826,"k":"hi"},{"row":11,"s":59932,"e":60038,"k":"hi"},{"row":11,"s":60250,"e":60610,"k":"hi"},{"row":11,"s":60991,"e":61097,"k":"hi"},{"row":11,"s":61372,"e":61669,"k":"hi"},{"row":11,"s":62368,"e":62792,"k":"hi"},
{"row":12,"s":148,"e":2584,"k":"lo"},{"row":12,"s":2795,"e":6841,"k":"lo"},{"row":12,"s":7349,"e":8323,"k":"lo"},{"row":12,"s":8429,"e":9213,"k":"lo"},{"row":12,"s":11289,"e":14614,"k":"lo"},{"row":12,"s":14847,"e":15503,"k":"lo"},{"row":12,"s":15948,"e":16329,"k":"lo"},{"row":12,"s":17791,"e":18469,"k":"lo"},{"row":12,"s":23676,"e":25095,"k":"lo"},{"row":12,"s":25264,"e":26429,"k":"lo"},{"row":12,"s":26683,"e":26789,"k":"lo"},{"row":12,"s":27319,"e":28123,"k":"lo"},{"row":12,"s":30602,"e":31491,"k":"lo"},{"row":12,"s":31703,"e":33927,"k":"lo"},{"row":12,"s":35113,"e":35261,"k":"lo"},{"row":12,"s":35473,"e":38650,"k":"lo"},{"row":12,"s":38862,"e":40408,"k":"lo"},{"row":12,"s":41975,"e":42251,"k":"lo"},{"row":12,"s":43941,"e":46271,"k":"lo"},{"row":12,"s":46441,"e":47224,"k":"lo"},{"row":12,"s":47394,"e":51778,"k":"lo"},{"row":12,"s":53303,"e":56649,"k":"lo"},{"row":12,"s":56861,"e":60822,"k":"lo"},{"row":12,"s":60991,"e":62008,"k":"lo"},{"row":12,"s":62114,"e":62792,"k":"lo"},
{"row":12,"s":1122,"e":1482,"k":"hi"},{"row":12,"s":1631,"e":1758,"k":"hi"},{"row":12,"s":2965,"e":3071,"k":"hi"},{"row":12,"s":3177,"e":3389,"k":"hi"},{"row":12,"s":3494,"e":3600,"k":"hi"},{"row":12,"s":4024,"e":4236,"k":"hi"},{"row":12,"s":4553,"e":4702,"k":"hi"},{"row":12,"s":5231,"e":5443,"k":"hi"},{"row":12,"s":5994,"e":6417,"k":"hi"},{"row":12,"s":6460,"e":6841,"k":"hi"},{"row":12,"s":7519,"e":7625,"k":"hi"},{"row":12,"s":7836,"e":7942,"k":"hi"},{"row":12,"s":8048,"e":8154,"k":"hi"},{"row":12,"s":8429,"e":9213,"k":"hi"},{"row":12,"s":11543,"e":11712,"k":"hi"},{"row":12,"s":11861,"e":11966,"k":"hi"},{"row":12,"s":12644,"e":12920,"k":"hi"},{"row":12,"s":13555,"e":13661,"k":"hi"},{"row":12,"s":14847,"e":14974,"k":"hi"},{"row":12,"s":17939,"e":18426,"k":"hi"},{"row":12,"s":23824,"e":23972,"k":"hi"},{"row":12,"s":24142,"e":24248,"k":"hi"},{"row":12,"s":24353,"e":24883,"k":"hi"},{"row":12,"s":25476,"e":25667,"k":"hi"},{"row":12,"s":26111,"e":26366,"k":"hi"},{"row":12,"s":30919,"e":31343,"k":"hi"},{"row":12,"s":31872,"e":31978,"k":"hi"},{"row":12,"s":32360,"e":32762,"k":"hi"},{"row":12,"s":33101,"e":33355,"k":"hi"},{"row":12,"s":33567,"e":33630,"k":"hi"},{"row":12,"s":35748,"e":35897,"k":"hi"},{"row":12,"s":36045,"e":36214,"k":"hi"},{"row":12,"s":36956,"e":37316,"k":"hi"},{"row":12,"s":37443,"e":37803,"k":"hi"},{"row":12,"s":38015,"e":38120,"k":"hi"},{"row":12,"s":39010,"e":40027,"k":"hi"},{"row":12,"s":40133,"e":40238,"k":"hi"},{"row":12,"s":44005,"e":44217,"k":"hi"},{"row":12,"s":44428,"e":44598,"k":"hi"},{"row":12,"s":44852,"e":45106,"k":"hi"},{"row":12,"s":45318,"e":45487,"k":"hi"},{"row":12,"s":45699,"e":45784,"k":"hi"},{"row":12,"s":45953,"e":46059,"k":"hi"},{"row":12,"s":46589,"e":46695,"k":"hi"},{"row":12,"s":46907,"e":47055,"k":"hi"},{"row":12,"s":47648,"e":47860,"k":"hi"},{"row":12,"s":48177,"e":48283,"k":"hi"},{"row":12,"s":48453,"e":48537,"k":"hi"},{"row":12,"s":48749,"e":48961,"k":"hi"},{"row":12,"s":49173,"e":49660,"k":"hi"},{"row":12,"s":49766,"e":50295,"k":"hi"},{"row":12,"s":50444,"e":50570,"k":"hi"},{"row":12,"s":51037,"e":51206,"k":"hi"},{"row":12,"s":51566,"e":51672,"k":"hi"},{"row":12,"s":53790,"e":54171,"k":"hi"},{"row":12,"s":54214,"e":54743,"k":"hi"},{"row":12,"s":54807,"e":54891,"k":"hi"},{"row":12,"s":55230,"e":56289,"k":"hi"},{"row":12,"s":56967,"e":57221,"k":"hi"},{"row":12,"s":57433,"e":57708,"k":"hi"},{"row":12,"s":58450,"e":58556,"k":"hi"},{"row":12,"s":59085,"e":59191,"k":"hi"},{"row":12,"s":59403,"e":59615,"k":"hi"},{"row":12,"s":59932,"e":60038,"k":"hi"},{"row":12,"s":60250,"e":60610,"k":"hi"},{"row":12,"s":61203,"e":61309,"k":"hi"},{"row":12,"s":61521,"e":61626,"k":"hi"},{"row":12,"s":62432,"e":62792,"k":"hi"},
{"row":13,"s":148,"e":2584,"k":"lo"},{"row":13,"s":2795,"e":8260,"k":"lo"},{"row":13,"s":8472,"e":9213,"k":"lo"},{"row":13,"s":11289,"e":14614,"k":"lo"},{"row":13,"s":14868,"e":14974,"k":"lo"},{"row":13,"s":24841,"e":25095,"k":"lo"},{"row":13,"s":25264,"e":26471,"k":"lo"},{"row":13,"s":26641,"e":26789,"k":"lo"},{"row":13,"s":27319,"e":28123,"k":"lo"},{"row":13,"s":30602,"e":31491,"k":"lo"},{"row":13,"s":31703,"e":33927,"k":"lo"},{"row":13,"s":35113,"e":35261,"k":"lo"},{"row":13,"s":35473,"e":40450,"k":"lo"},{"row":13,"s":44005,"e":45572,"k":"lo"},{"row":13,"s":47436,"e":48537,"k":"lo"},{"row":13,"s":49173,"e":51778,"k":"lo"},{"row":13,"s":53218,"e":56713,"k":"lo"},{"row":13,"s":56861,"e":62008,"k":"lo"},{"row":13,"s":62114,"e":62792,"k":"lo"},
{"row":13,"s":1122,"e":1376,"k":"hi"},{"row":13,"s":1588,"e":1800,"k":"hi"},{"row":13,"s":3113,"e":3494,"k":"hi"},{"row":13,"s":4024,"e":4236,"k":"hi"},{"row":13,"s":4448,"e":4829,"k":"hi"},{"row":13,"s":5570,"e":5655,"k":"hi"},{"row":13,"s":5994,"e":6078,"k":"hi"},{"row":13,"s":6290,"e":6629,"k":"hi"},{"row":13,"s":7095,"e":7264,"k":"hi"},{"row":13,"s":7413,"e":7625,"k":"hi"},{"row":13,"s":8535,"e":9171,"k":"hi"},{"row":13,"s":11861,"e":12072,"k":"hi"},{"row":13,"s":12390,"e":12496,"k":"hi"},{"row":13,"s":12644,"e":12856,"k":"hi"},{"row":13,"s":25476,"e":25667,"k":"hi"},{"row":13,"s":26260,"e":26366,"k":"hi"},{"row":13,"s":27319,"e":27425,"k":"hi"},{"row":13,"s":27742,"e":27848,"k":"hi"},{"row":13,"s":30919,"e":31025,"k":"hi"},{"row":13,"s":32360,"e":32974,"k":"hi"},{"row":13,"s":33291,"e":33355,"k":"hi"},{"row":13,"s":35748,"e":36002,"k":"hi"},{"row":13,"s":37167,"e":37273,"k":"hi"},{"row":13,"s":37697,"e":37803,"k":"hi"},{"row":13,"s":38078,"e":38163,"k":"hi"},{"row":13,"s":38501,"e":38544,"k":"hi"},{"row":13,"s":39074,"e":39984,"k":"hi"},{"row":13,"s":44089,"e":44259,"k":"hi"},{"row":13,"s":44428,"e":44513,"k":"hi"},{"row":13,"s":44725,"e":45043,"k":"hi"},{"row":13,"s":45424,"e":45487,"k":"hi"},{"row":13,"s":47436,"e":47542,"k":"hi"},{"row":13,"s":48326,"e":48389,"k":"hi"},{"row":13,"s":49342,"e":49554,"k":"hi"},{"row":13,"s":49660,"e":50020,"k":"hi"},{"row":13,"s":50994,"e":51291,"k":"hi"},{"row":13,"s":51460,"e":51630,"k":"hi"},{"row":13,"s":53578,"e":53748,"k":"hi"},{"row":13,"s":54044,"e":54637,"k":"hi"},{"row":13,"s":54807,"e":55315,"k":"hi"},{"row":13,"s":55442,"e":55696,"k":"hi"},{"row":13,"s":55802,"e":56289,"k":"hi"},{"row":13,"s":57136,"e":57708,"k":"hi"},{"row":13,"s":58767,"e":58916,"k":"hi"},{"row":13,"s":59509,"e":59615,"k":"hi"},{"row":13,"s":59932,"e":60038,"k":"hi"},{"row":13,"s":60250,"e":60568,"k":"hi"},{"row":13,"s":60991,"e":61097,"k":"hi"},{"row":13,"s":61415,"e":61521,"k":"hi"},{"row":13,"s":61669,"e":61838,"k":"hi"},{"row":13,"s":62474,"e":62792,"k":"hi"},
{"row":14,"s":148,"e":2584,"k":"lo"},{"row":14,"s":2859,"e":7794,"k":"lo"},{"row":14,"s":11606,"e":14466,"k":"lo"},{"row":14,"s":14783,"e":15249,"k":"lo"},{"row":14,"s":24523,"e":25095,"k":"lo"},{"row":14,"s":25264,"e":26429,"k":"lo"},{"row":14,"s":27276,"e":28123,"k":"lo"},{"row":14,"s":30602,"e":31491,"k":"lo"},{"row":14,"s":31703,"e":33927,"k":"lo"},{"row":14,"s":35113,"e":35261,"k":"lo"},{"row":14,"s":35473,"e":37803,"k":"lo"},{"row":14,"s":37909,"e":40556,"k":"lo"},{"row":14,"s":41086,"e":42251,"k":"lo"},{"row":14,"s":44005,"e":46271,"k":"lo"},{"row":14,"s":46441,"e":47182,"k":"lo"},{"row":14,"s":47394,"e":48855,"k":"lo"},{"row":14,"s":49448,"e":51778,"k":"lo"},{"row":14,"s":53218,"e":56713,"k":"lo"},{"row":14,"s":56861,"e":62008,"k":"lo"},{"row":14,"s":62114,"e":62792,"k":"lo"},
{"row":14,"s":1694,"e":1842,"k":"hi"},{"row":14,"s":3982,"e":4702,"k":"hi"},{"row":14,"s":5443,"e":5612,"k":"hi"},{"row":14,"s":6671,"e":6820,"k":"hi"},{"row":14,"s":7095,"e":7370,"k":"hi"},{"row":14,"s":7519,"e":7625,"k":"hi"},{"row":14,"s":12390,"e":12538,"k":"hi"},{"row":14,"s":12644,"e":12920,"k":"hi"},{"row":14,"s":13343,"e":13491,"k":"hi"},{"row":14,"s":25412,"e":25667,"k":"hi"},{"row":14,"s":25772,"e":25878,"k":"hi"},{"row":14,"s":30856,"e":30983,"k":"hi"},{"row":14,"s":32360,"e":32614,"k":"hi"},{"row":14,"s":32826,"e":32931,"k":"hi"},{"row":14,"s":35685,"e":35833,"k":"hi"},{"row":14,"s":36002,"e":36426,"k":"hi"},{"row":14,"s":37167,"e":37273,"k":"hi"},{"row":14,"s":37379,"e":37527,"k":"hi"},{"row":14,"s":37697,"e":37803,"k":"hi"},{"row":14,"s":39074,"e":39497,"k":"hi"},{"row":14,"s":39603,"e":39921,"k":"hi"},{"row":14,"s":44005,"e":44259,"k":"hi"},{"row":14,"s":45953,"e":46059,"k":"hi"},{"row":14,"s":47012,"e":47118,"k":"hi"},{"row":14,"s":47542,"e":47648,"k":"hi"},{"row":14,"s":47860,"e":47966,"k":"hi"},{"row":14,"s":48283,"e":48389,"k":"hi"},{"row":14,"s":49766,"e":49872,"k":"hi"},{"row":14,"s":49978,"e":50147,"k":"hi"},{"row":14,"s":53684,"e":53790,"k":"hi"},{"row":14,"s":54065,"e":54468,"k":"hi"},{"row":14,"s":54849,"e":55273,"k":"hi"},{"row":14,"s":55908,"e":56120,"k":"hi"},{"row":14,"s":56437,"e":56543,"k":"hi"},{"row":14,"s":57391,"e":57708,"k":"hi"},{"row":14,"s":58344,"e":58450,"k":"hi"},{"row":14,"s":58831,"e":58916,"k":"hi"},{"row":14,"s":59509,"e":59615,"k":"hi"},{"row":14,"s":60102,"e":60568,"k":"hi"},{"row":14,"s":60991,"e":61097,"k":"hi"},{"row":14,"s":61372,"e":61457,"k":"hi"},{"row":14,"s":62432,"e":62792,"k":"hi"},
{"row":15,"s":148,"e":2647,"k":"lo"},{"row":15,"s":2859,"e":3537,"k":"lo"},{"row":15,"s":3749,"e":8323,"k":"lo"},{"row":15,"s":8472,"e":9213,"k":"lo"},{"row":15,"s":11606,"e":13661,"k":"lo"},{"row":15,"s":24883,"e":25095,"k":"lo"},{"row":15,"s":25264,"e":26429,"k":"lo"},{"row":15,"s":27319,"e":28123,"k":"lo"},{"row":15,"s":30602,"e":31491,"k":"lo"},{"row":15,"s":31703,"e":33143,"k":"lo"},{"row":15,"s":33207,"e":33927,"k":"lo"},{"row":15,"s":35113,"e":35261,"k":"lo"},{"row":15,"s":35473,"e":36956,"k":"lo"},{"row":15,"s":37019,"e":40450,"k":"lo"},{"row":15,"s":40916,"e":41615,"k":"lo"},{"row":15,"s":44513,"e":45784,"k":"lo"},{"row":15,"s":46843,"e":47182,"k":"lo"},{"row":15,"s":47394,"e":51778,"k":"lo"},{"row":15,"s":53218,"e":56713,"k":"lo"},{"row":15,"s":56861,"e":61838,"k":"lo"},{"row":15,"s":61902,"e":62008,"k":"lo"},{"row":15,"s":62114,"e":62792,"k":"lo"},
{"row":15,"s":741,"e":910,"k":"hi"},{"row":15,"s":1271,"e":1419,"k":"hi"},{"row":15,"s":2859,"e":3071,"k":"hi"},{"row":15,"s":3177,"e":3389,"k":"hi"},{"row":15,"s":4024,"e":4130,"k":"hi"},{"row":15,"s":4299,"e":4448,"k":"hi"},{"row":15,"s":4596,"e":4765,"k":"hi"},{"row":15,"s":4977,"e":5083,"k":"hi"},{"row":15,"s":5507,"e":5655,"k":"hi"},{"row":15,"s":5824,"e":5994,"k":"hi"},{"row":15,"s":6714,"e":6841,"k":"hi"},{"row":15,"s":7095,"e":7264,"k":"hi"},{"row":15,"s":7476,"e":7625,"k":"hi"},{"row":15,"s":7836,"e":7985,"k":"hi"},{"row":15,"s":8535,"e":8895,"k":"hi"},{"row":15,"s":11861,"e":12072,"k":"hi"},{"row":15,"s":12390,"e":12496,"k":"hi"},{"row":15,"s":12644,"e":12920,"k":"hi"},{"row":15,"s":25349,"e":25667,"k":"hi"},{"row":15,"s":26111,"e":26217,"k":"hi"},{"row":15,"s":27700,"e":27912,"k":"hi"},{"row":15,"s":32360,"e":32571,"k":"hi"},{"row":15,"s":32614,"e":32868,"k":"hi"},{"row":15,"s":37167,"e":37273,"k":"hi"},{"row":15,"s":37591,"e":37866,"k":"hi"},{"row":15,"s":38015,"e":38078,"k":"hi"},{"row":15,"s":38290,"e":38375,"k":"hi"},{"row":15,"s":39179,"e":39285,"k":"hi"},{"row":15,"s":39497,"e":39984,"k":"hi"},{"row":15,"s":41086,"e":41192,"k":"hi"},{"row":15,"s":41297,"e":41403,"k":"hi"},{"row":15,"s":44683,"e":45106,"k":"hi"},{"row":15,"s":46907,"e":47118,"k":"hi"},{"row":15,"s":47394,"e":47648,"k":"hi"},{"row":15,"s":49173,"e":49300,"k":"hi"},{"row":15,"s":51354,"e":51524,"k":"hi"},{"row":15,"s":53578,"e":53790,"k":"hi"},{"row":15,"s":54108,"e":54214,"k":"hi"},{"row":15,"s":54595,"e":54680,"k":"hi"},{"row":15,"s":54807,"e":54955,"k":"hi"},{"row":15,"s":55061,"e":55230,"k":"hi"},{"row":15,"s":55379,"e":56120,"k":"hi"},{"row":15,"s":57391,"e":57560,"k":"hi"},{"row":15,"s":58238,"e":58408,"k":"hi"},{"row":15,"s":59551,"e":59678,"k":"hi"},{"row":15,"s":60314,"e":60525,"k":"hi"},{"row":15,"s":61034,"e":61161,"k":"hi"},{"row":15,"s":61309,"e":61457,"k":"hi"},{"row":15,"s":61584,"e":61733,"k":"hi"},{"row":15,"s":62516,"e":62728,"k":"hi"}
]
},
"layer":[
{"layer":[
{"data":{"name":"tree"},"mark":{"type":"rule","color":"#231f20","strokeWidth":1.8,"strokeCap":"square"},
"encoding":{"x":{"field":"x","type":"quantitative","scale":{"domain":[-1.2455,65.725],"nice":false,"zero":false},"axis":null},"x2":{"field":"x2"},
"y":{"field":"y","type":"quantitative","scale":{"domain":[-2.486,18.324],"nice":false,"zero":false,"reverse":true},"axis":null},"y2":{"field":"y2"}}},
{"data":{"name":"tracks"},"mark":{"type":"text","align":"left","baseline":"middle","font":"Liberation Sans","fontStyle":"italic","fontSize":21,"color":"#231f20","dy":1},
"encoding":{"x":{"datum":8.575,"type":"quantitative","scale":{"domain":[-1.2455,65.725],"nice":false,"zero":false},"axis":null},
"y":{"field":"row","type":"quantitative","scale":{"domain":[-2.486,18.324],"nice":false,"zero":false,"reverse":true},"axis":null},"text":{"field":"species"}}},
{"data":{"name":"one"},"mark":{"type":"text","align":"left","baseline":"alphabetic","font":"Liberation Sans","fontWeight":"bold","fontSize":22,"color":"#231f20","text":"A","dx":1},
"encoding":{"x":{"datum":-1.2455,"type":"quantitative","scale":{"domain":[-1.2455,65.725],"nice":false,"zero":false},"axis":null},
"y":{"datum":-1.549,"type":"quantitative","scale":{"domain":[-2.486,18.324],"nice":false,"zero":false,"reverse":true},"axis":null}}}
]},
{"layer":[
{"data":{"name":"tracks"},"mark":{"type":"bar","height":20,"fill":"white","stroke":"#3a3a3a","strokeWidth":1.5},
"encoding":{"x":{"datum":1,"type":"quantitative","scale":{"domain":[-22871,65948],"nice":false,"zero":false},"axis":null},"x2":{"datum":62899},
"y":{"field":"row","type":"quantitative","scale":{"domain":[-2.486,18.324],"nice":false,"zero":false,"reverse":true},"axis":null}}},
{"data":{"name":"segments"},"mark":{"type":"bar","height":15.4},
"encoding":{"x":{"field":"s","type":"quantitative","scale":{"domain":[-22871,65948],"nice":false,"zero":false},"axis":null},"x2":{"field":"e"},
"y":{"field":"row","type":"quantitative","scale":{"domain":[-2.486,18.324],"nice":false,"zero":false,"reverse":true},"axis":null},
"color":{"field":"k","type":"nominal","scale":{"domain":["hi","lo"],"range":["#f17f80","#98cc6a"]},"legend":null}}},
{"data":{"name":"ref"},"mark":{"type":"bar","height":14.5,"color":"#231f20"},
"encoding":{"x":{"field":"s","type":"quantitative","scale":{"domain":[-22871,65948],"nice":false,"zero":false},"axis":null},"x2":{"field":"e"},
"y":{"field":"row","type":"quantitative","scale":{"domain":[-2.486,18.324],"nice":false,"zero":false,"reverse":true},"axis":null}}},
{"data":{"name":"one"},"mark":{"type":"rule","color":"#333333","strokeWidth":1.5},
"encoding":{"x":{"datum":1,"type":"quantitative","scale":{"domain":[-22871,65948],"nice":false,"zero":false},"axis":null},"x2":{"datum":62899},
"y":{"datum":15.38,"type":"quantitative","scale":{"domain":[-2.486,18.324],"nice":false,"zero":false,"reverse":true},"axis":null}}},
{"data":{"name":"ticks"},"mark":{"type":"rule","color":"#333333","strokeWidth":1.3},
"encoding":{"x":{"field":"pos","type":"quantitative","scale":{"domain":[-22871,65948],"nice":false,"zero":false},"axis":null},
"y":{"datum":15.38,"type":"quantitative","scale":{"domain":[-2.486,18.324],"nice":false,"zero":false,"reverse":true},"axis":null},"y2":{"datum":15.775}}},
{"data":{"name":"ticks"},"mark":{"type":"text","align":"center","baseline":"middle","font":"Liberation Sans","fontSize":22,"color":"#222222"},
"encoding":{"x":{"field":"pos","type":"quantitative","scale":{"domain":[-22871,65948],"nice":false,"zero":false},"axis":null},
"y":{"datum":16.45,"type":"quantitative","scale":{"domain":[-2.486,18.324],"nice":false,"zero":false,"reverse":true},"axis":null},"text":{"field":"label"}}},
{"data":{"name":"coords"},"transform":[{"filter":"datum.pos < 100"}],"mark":{"type":"text","align":"left","baseline":"middle","font":"Liberation Sans","fontSize":24,"color":"#e8212b","dx":-42},
"encoding":{"x":{"field":"pos","type":"quantitative","scale":{"domain":[-22871,65948],"nice":false,"zero":false},"axis":null},
"y":{"datum":17.95,"type":"quantitative","scale":{"domain":[-2.486,18.324],"nice":false,"zero":false,"reverse":true},"axis":null},"text":{"field":"coord"}}},
{"data":{"name":"coords"},"transform":[{"filter":"datum.pos > 100"}],"mark":{"type":"text","align":"right","baseline":"middle","font":"Liberation Sans","fontSize":24,"color":"#e8212b","dx":47},
"encoding":{"x":{"field":"pos","type":"quantitative","scale":{"domain":[-22871,65948],"nice":false,"zero":false},"axis":null},
"y":{"datum":17.95,"type":"quantitative","scale":{"domain":[-2.486,18.324],"nice":false,"zero":false,"reverse":true},"axis":null},"text":{"field":"coord"}}},
{"data":{"name":"erv"},"mark":{"type":"rect","fill":"white","fillOpacity":0,"stroke":"#e8212b","strokeWidth":3},
"encoding":{"x":{"field":"s","type":"quantitative","scale":{"domain":[-22871,65948],"nice":false,"zero":false},"axis":null},"x2":{"field":"e"},
"y":{"datum":-0.424,"type":"quantitative","scale":{"domain":[-2.486,18.324],"nice":false,"zero":false,"reverse":true},"axis":null},"y2":{"datum":15.62}}},
{"data":{"name":"arrows"},"mark":{"type":"rule","color":"#231f20","strokeWidth":2.5},
"encoding":{"x":{"field":"tail","type":"quantitative","scale":{"domain":[-22871,65948],"nice":false,"zero":false},"axis":null},"x2":{"field":"head"},
"y":{"datum":-0.93,"type":"quantitative","scale":{"domain":[-2.486,18.324],"nice":false,"zero":false,"reverse":true},"axis":null}}},
{"data":{"name":"arrows"},"mark":{"type":"point","shape":"triangle-right","filled":true,"size":110,"color":"#231f20","opacity":1},
"encoding":{"x":{"field":"head","type":"quantitative","scale":{"domain":[-22871,65948],"nice":false,"zero":false},"axis":null},
"y":{"datum":-0.93,"type":"quantitative","scale":{"domain":[-2.486,18.324],"nice":false,"zero":false,"reverse":true},"axis":null}}},
{"data":{"name":"arrows"},"mark":{"type":"text","align":"center","baseline":"alphabetic","font":"Liberation Serif","fontSize":23,"color":"#231f20"},
"encoding":{"x":{"field":"mid","type":"quantitative","scale":{"domain":[-22871,65948],"nice":false,"zero":false},"axis":null},
"y":{"datum":-1.40,"type":"quantitative","scale":{"domain":[-2.486,18.324],"nice":false,"zero":false,"reverse":true},"axis":null},"text":{"field":"label"}}}
]}
],
"resolve":{"scale":{"x":"independent"}}
}
